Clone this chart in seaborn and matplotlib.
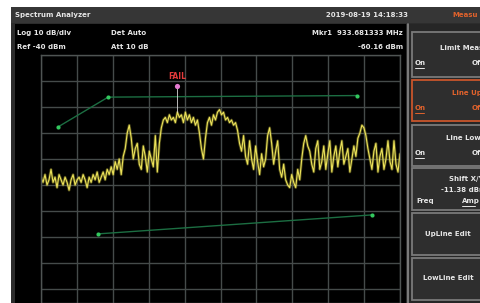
import numpy as np
import matplotlib
matplotlib.use("Agg")
import matplotlib.pyplot as plt
from matplotlib.patches import Rectangle
import seaborn as sns

# ---------------- data ----------------
trace_dbm = [
    -87, -89, -86, -90, -88, -84, -89, -87, -91, -86, -88, -90, -87, -89, -92,
    -88, -86, -90, -88, -87, -89, -86, -88, -91, -87, -89, -86, -88, -85, -89,
    -87, -85, -88, -84, -86, -83, -86, -81, -84, -80,
    -86, -79, -76, -70, -67, -72, -80, -76, -74, -82, -84, -75, -79, -85, -77,
    -80, -83, -71, -85, -74, -68,
    -65, -64, -66, -63, -65, -64, -66, -62, -64, -63, -66, -62, -65, -63, -66,
    -64, -67, -65, -70, -76, -80, -72, -66, -64, -67, -63, -65, -62, -61, -63,
    -62, -65, -64, -66, -65, -67, -66,
    -69, -74, -77, -71, -79, -82, -73, -80, -84, -75, -81, -86, -78, -83, -80,
    -71, -68, -74, -82, -77, -73, -84, -87, -82, -88, -90, -91, -86, -89, -91,
    -84, -88,
    -80, -74, -71, -75, -77, -82, -85, -76, -73, -84, -81, -75, -84, -78, -73,
    -85, -79, -75, -83, -77, -73, -82, -79, -76, -85, -80, -75, -79, -72, -70,
    -67, -68, -71, -76, -80, -84, -77, -74, -85, -79, -76, -84, -80, -73, -81,
    -84, -73, -82, -85, -78,
]
upper_x = [0.47, 1.87, 8.80]
upper_dbm = [-67.7, -56.2, -55.6]
lower_x = [1.59, 9.22]
lower_dbm = [-108.8, -101.5]
marker_x = [3.79]
marker_dbm = [-52.0]
marker_trace_dbm = -62.0
ref_dbm = -40
db_per_div = 10

# ---------------- figure ----------------
sns.set_theme(style="dark")
plt.rcParams['font.family'] = ['DejaVu Sans']
W, H = 481, 303
fig = plt.figure(figsize=(W / 100, H / 100), dpi=100, facecolor="white")

bg = fig.add_axes([0, 0, 1, 1])
bg.set_xlim(0, W)
bg.set_ylim(H, 0)
bg.axis("off")

def rect(x0, y0, x1, y1, fc, ec="none", lw=0, z=1):
    bg.add_patch(Rectangle((x0, y0), x1 - x0, y1 - y0, facecolor=fc,
                           edgecolor=ec, linewidth=lw, zorder=z))

# screen frame
rect(11, 7, W, H, "#2c2c2c")
rect(11, 7, W, 23, "#363636")
# black measurement area
rect(15, 24, 406, H, "#000000")
# right softkey panel
rect(407, 24, W, H, "#262626")
bg.plot([408, 408], [24, H], color="#8a8a8a", lw=1.2, zorder=2)

boxes = [(32, 77), (80, 121), (125, 166), (168, 210), (213, 255), (258, 300)]
for i, (y0, y1) in enumerate(boxes):
    ec = "#c9552b" if i == 1 else "#7a7a7a"
    rect(412, y0, W + 5, y1, "#2e2e2e", ec=ec, lw=1.3, z=2)

txt = dict(color="#e6e6e6", fontsize=5, fontweight="bold", va="center", zorder=5)
org = dict(txt, color="#e0622c")

bg.text(15, 15, "Spectrum Analyzer", **txt)
bg.text(408, 15, "2019-08-19 14:18:33", ha="right", **txt)
bg.text(452, 15, "Measu", **org)

bg.text(17, 33, "Log 10 dB/div", **txt)
bg.text(111, 33, "Det Auto", **txt)
bg.text(17, 47, "Ref -40 dBm", **txt)
bg.text(111, 47, "Att 10 dB", **txt)
bg.text(403, 33, "Mkr1  933.681333 MHz", ha="right", **txt)
bg.text(403, 47, "-60.16 dBm", ha="right", **txt)

bg.text(440, 48, "Limit Meas", **txt)
bg.text(415, 63, "On", **txt)
bg.text(472, 63, "Off", **txt)
bg.text(452, 93, "Line Up", **org)
bg.text(415, 108, "On", **org)
bg.text(472, 108, "Off", **org)
bg.text(446, 138, "Line Low", **txt)
bg.text(415, 153, "On", **txt)
bg.text(472, 153, "Off", **txt)
bg.text(449, 179, "Shift X/Y", **txt)
bg.text(441, 190, "-11.38 dBm", **txt)
bg.text(416, 201, "Freq", **txt)
bg.text(462, 201, "Amp", **txt)
bg.text(425, 234, "UpLine Edit", **txt)
bg.text(423, 278, "LowLine Edit", **txt)
for (xa, xb, yy, c) in [(415, 424, 68, "#e6e6e6"), (415, 424, 113, "#e0622c"),
                        (415, 424, 158, "#e6e6e6"), (462, 475, 206, "#e6e6e6")]:
    bg.plot([xa, xb], [yy, yy], color=c, lw=0.7, zorder=5)

# ---------------- graticule ----------------
x0, x1, ytop = 41, 400, 55
ax = fig.add_axes([x0 / W, 0, (x1 - x0) / W, (H - ytop) / H])
ax.set_facecolor("black")
ymin = ref_dbm - (H - ytop) / 26.0 * db_per_div
ax.set_xticks(np.arange(0, 11, 1))
ax.set_yticks(np.arange(ref_dbm, ymin, -db_per_div))
ax.set_xlim(0, 10)
ax.set_ylim(ymin, ref_dbm)
ax.tick_params(length=0, labelbottom=False, labelleft=False)
ax.grid(True, color="#454b4a", linewidth=1.0)
for s in ax.spines.values():
    s.set_color("#4f5453")
    s.set_linewidth(1.0)

freq = np.linspace(0, 10, len(trace_dbm))
sns.lineplot(x=freq, y=trace_dbm, ax=ax, color="#a8a032", linewidth=2.0,
             alpha=0.45, sort=False)
sns.lineplot(x=freq, y=trace_dbm, ax=ax, color="#ece25a", linewidth=0.8,
             sort=False)

sns.lineplot(x=upper_x, y=upper_dbm, ax=ax, color="#1c6e42", linewidth=1.0, sort=False)
sns.scatterplot(x=upper_x, y=upper_dbm, ax=ax, color="#33c85e", s=9, linewidth=0, zorder=4)
sns.lineplot(x=lower_x, y=lower_dbm, ax=ax, color="#1c6e42", linewidth=1.0, sort=False)
sns.scatterplot(x=lower_x, y=lower_dbm, ax=ax, color="#33c85e", s=9, linewidth=0, zorder=4)

ax.plot([marker_x[0], marker_x[0]], [marker_dbm[0], marker_trace_dbm],
        color="#d8d8d8", linewidth=0.6, zorder=3)
sns.scatterplot(x=marker_x, y=marker_dbm, ax=ax, color="#e47ad0", s=14,
                linewidth=0, zorder=5)
ax.text(marker_x[0], marker_dbm[0] + 3.6, "FAIL", color="#e23a3a", fontsize=5.5,
        fontweight="bold", ha="center", va="center")
ax.set_xlim(0, 10)
ax.set_ylim(ymin, ref_dbm)
ax.set_xlabel("")
ax.set_ylabel("")

fig.savefig("out.png", dpi=100, facecolor="white")
